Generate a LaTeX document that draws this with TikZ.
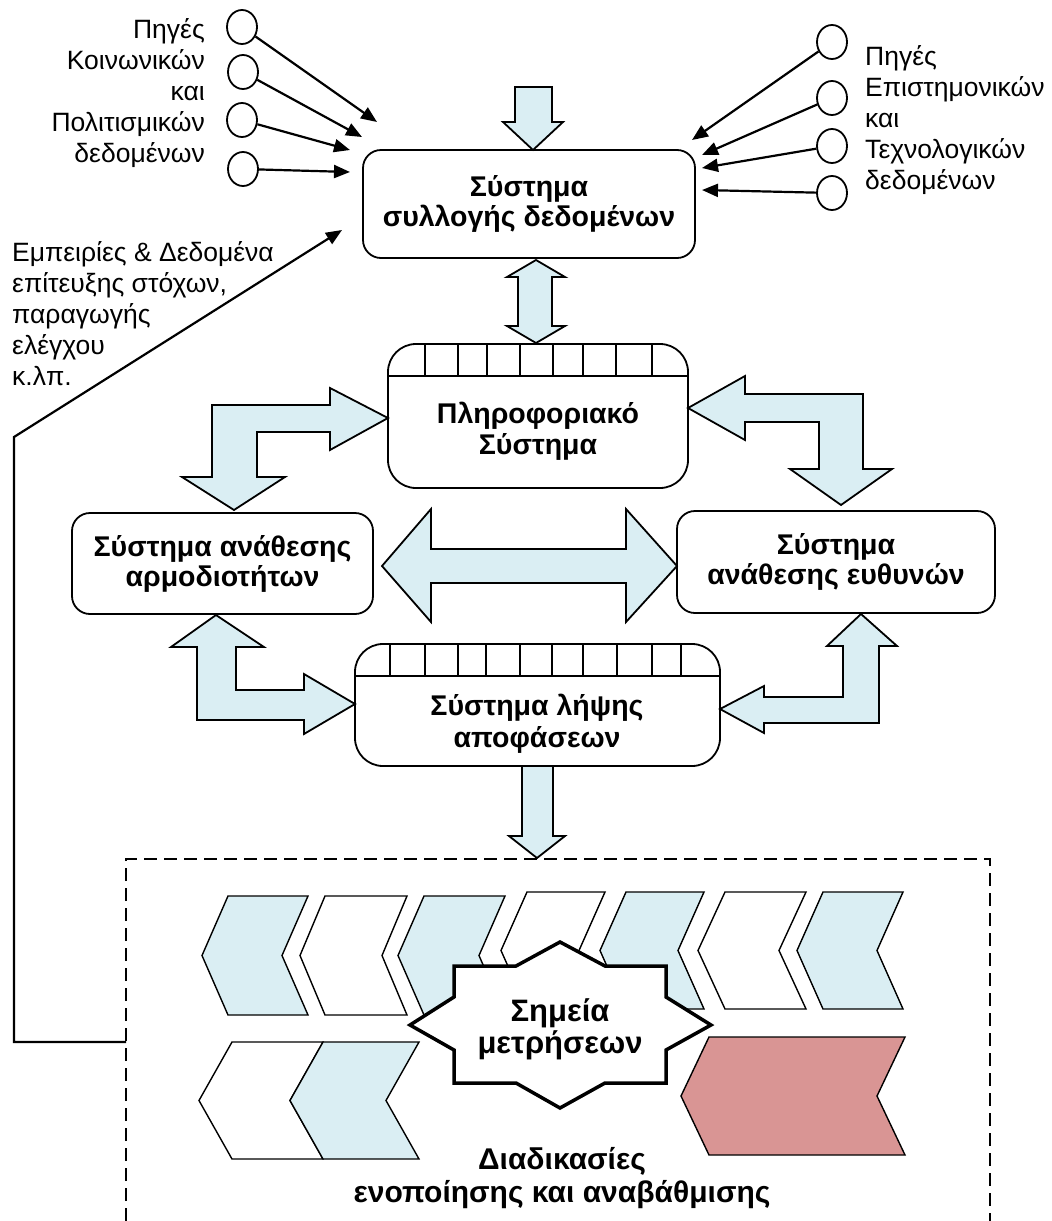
\documentclass[tikz,border=0pt]{standalone}
\usepackage{fontspec}
\setmainfont{Liberation Sans}
\usetikzlibrary{shapes.geometric,arrows.meta}
\definecolor{lblue}{HTML}{DAEEF3}
\definecolor{lpink}{HTML}{D99594}
\newcommand\mychev[6]{%
  \filldraw[chevline, fill=#6] (#1,#2) -- ++(#3,0) -- ++(-#5,#4/2) -- ++(#5,#4/2) -- ++(-#3,0) -- ++(-#5,-#4/2) -- cycle;}
\begin{document}
\begin{tikzpicture}[x=1pt,y=-1pt,
  lab/.style={font=\fontsize{26.5}{31}\selectfont, inner sep=0pt},
  btxt/.style={font=\fontsize{28.5}{31.5}\selectfont\bfseries, align=center, inner sep=0pt},
  src/.style={ellipse, draw, line width=1.8pt, minimum width=30pt, minimum height=34pt, inner sep=0pt},
  thinarrow/.style={line width=2.2pt, -{Triangle[length=16pt,width=13pt]}},
  sysbox/.style={draw, line width=1.8pt, rounded corners=18pt, fill=white, align=center, inner sep=0pt,
     font=\fontsize{28.5}{30}\selectfont\bfseries},
  tabbox/.style={draw, line width=1.8pt, rounded corners=28pt, fill=white},
  blk/.style={draw, line width=1.8pt, fill=lblue, line join=miter},
  chevline/.style={draw, line width=1.4pt, line join=miter},
]
\useasboundingbox (0,0) rectangle (1052,1221);

% ---------- dashed frame ----------
\draw[line width=1.6pt, dash pattern=on 13pt off 7pt] (126,1221) -- (126,859) -- (990,859) -- (990,1221);

% ---------- source circles left ----------
\node[src] (l1) at (242,27) {};
\node[src] (l2) at (243,72) {};
\node[src] (l3) at (242,120) {};
\node[src] (l4) at (243,169) {};
\node[lab, align=right, anchor=east] (llab) at (205,93) {Πηγές\\Κοινωνικών\\και\\Πολιτισμικών\\δεδομένων};

% ---------- source circles right ----------
\node[src] (r1) at (832,42) {};
\node[src] (r2) at (832,98) {};
\node[src] (r3) at (832,146) {};
\node[src] (r4) at (832,193) {};
\node[lab, align=left, anchor=west] (rlab) at (865,120) {Πηγές\\Επιστημονικών\\και\\Τεχνολογικών\\δεδομένων};

% ---------- arrow end coordinates ----------
\coordinate (tl1) at (377,122);
\coordinate (tl2) at (362,137);
\coordinate (tl3) at (350,150);
\coordinate (tl4) at (350,172);
\coordinate (tr1) at (692,140);
\coordinate (tr2) at (702,155);
\coordinate (tr3) at (702,168);
\coordinate (tr4) at (702,190);
\draw[thinarrow] (l1) -- (tl1);
\draw[thinarrow] (l2) -- (tl2);
\draw[thinarrow] (l3) -- (tl3);
\draw[thinarrow] (l4) -- (tl4);
\draw[thinarrow] (r1) -- (tr1);
\draw[thinarrow] (r2) -- (tr2);
\draw[thinarrow] (r3) -- (tr3);
\draw[thinarrow] (r4) -- (tr4);

% ---------- box 1 ----------
\node[sysbox, minimum width=332pt, minimum height=108pt] (collect) at (529,204) {Σύστημα\\συλλογής δεδομένων};

% top down block arrow
\filldraw[blk] (515,87) -- (552,87) -- (552,122) -- (563,122) -- (533,150) -- (503,122) -- (515,122) -- cycle;

% vertical double arrow
\filldraw[blk] (536,260) -- (565,277) -- (552,277) -- (552,326) -- (565,326) -- (536,343) -- (507,326) -- (518,326) -- (518,277) -- (507,277) -- cycle;

% ---------- box 2 (info system) ----------
\draw[tabbox] (388,344) rectangle (688,488);
\draw[line width=1.5pt] (388,376) -- (688,376);
\foreach \x in {425,458,487,520,553,583,616,652} \draw[line width=1.5pt] (\x,344) -- (\x,376);
\node[btxt] (info) at (538,431) {Πληροφοριακό\\Σύστημα};

% ---------- box 3 / box 4 ----------
\node[sysbox, minimum width=301pt, minimum height=101pt] (compet) at (222.5,563.5) {Σύστημα ανάθεσης\\αρμοδιοτήτων};
\node[sysbox, minimum width=318pt, minimum height=102pt] (resp) at (836,562) {Σύστημα\\ανάθεσης ευθυνών};

% L arrows from box 2
\filldraw[blk] (388,418) -- (330,388) -- (330,405) -- (212,405) -- (212,477) -- (182,477) -- (234,510) -- (285,477) -- (257,477) -- (257,432) -- (330,432) -- (330,450) -- cycle;
\filldraw[blk] (688,408) -- (745,376) -- (745,394) -- (863,394) -- (863,469) -- (892,469) -- (841,505) -- (790,469) -- (819,469) -- (819,422) -- (745,422) -- (745,440) -- cycle;

% horizontal double arrow
\filldraw[blk] (382,566) -- (431,509) -- (431,549) -- (626,549) -- (626,509) -- (677,566) -- (626,622) -- (626,583) -- (431,583) -- (431,622) -- cycle;

% ---------- box 5 (decision) ----------
\draw[tabbox] (355,644) rectangle (720,766);
\draw[line width=1.5pt] (355,676) -- (720,676);
\foreach \x in {390,425,458,486,520,552,583,617,652,681} \draw[line width=1.5pt] (\x,644) -- (\x,676);
\node[btxt] (decide) at (537,724) {Σύστημα λήψης\\αποφάσεων};

% lower L arrows
\filldraw[blk] (216,615) -- (264,647) -- (236,647) -- (236,690) -- (304,690) -- (304,674) -- (355,704) -- (304,734) -- (304,720) -- (197,720) -- (197,647) -- (171,647) -- cycle;
\filldraw[blk] (861,614) -- (897,646) -- (879,646) -- (879,723) -- (764,723) -- (764,733) -- (720,709) -- (764,686) -- (764,697) -- (843,697) -- (843,646) -- (827,646) -- cycle;

% down arrow to frame
\filldraw[blk] (522,766) -- (553,766) -- (553,836) -- (565,836) -- (537,858) -- (509,836) -- (522,836) -- cycle;

% ---------- feedback line ----------
\coordinate (fb0) at (126,1042);
\coordinate (fb1) at (14,1042);
\coordinate (fb2) at (14,437);
\coordinate (fbt) at (342,230);
\draw[thinarrow] (fb0) -- (fb1) -- (fb2) -- (fbt);
\node[lab, align=left, anchor=west] (fbtext) at (12,314) {Εμπειρίες \& Δεδομένα\\επίτευξης στόχων,\\παραγωγής\\ελέγχου\\κ.λπ.};

% ---------- chevrons ----------
\mychev{228}{896}{80}{119}{26}{lblue}
\mychev{325}{896}{82}{119}{25}{white}
\mychev{424}{896}{81}{119}{26}{lblue}
\mychev{527}{892}{78}{117}{26}{white}
\mychev{626}{892}{78}{117}{26}{lblue}
\mychev{725}{892}{81}{117}{27}{white}
\mychev{823}{892}{80}{117}{26}{lblue}
\mychev{232}{1042}{91}{117}{33}{white}
\mychev{323}{1042}{96}{117}{33}{lblue}
\mychev{709}{1037}{196}{118}{28}{lpink}

% ---------- star ----------
\filldraw[fill=white, line width=3.5pt, line join=miter]
  (454,966) -- (516,966) -- (560,942) -- (605,966) -- (666,966) -- (666,997) -- (711,1025) -- (666,1050)
  -- (666,1083) -- (605,1083) -- (560,1108) -- (516,1083) -- (454,1083) -- (454,1050) -- (410,1025) -- (454,997) -- cycle;
\node[btxt, font=\fontsize{31}{32}\selectfont\bfseries] (measure) at (560,1029) {Σημεία\\μετρήσεων};

\node[btxt, font=\fontsize{30}{33}\selectfont\bfseries] (procs) at (562,1178) {Διαδικασίες\\ενοποίησης και αναβάθμισης};
\end{tikzpicture}
\end{document}
